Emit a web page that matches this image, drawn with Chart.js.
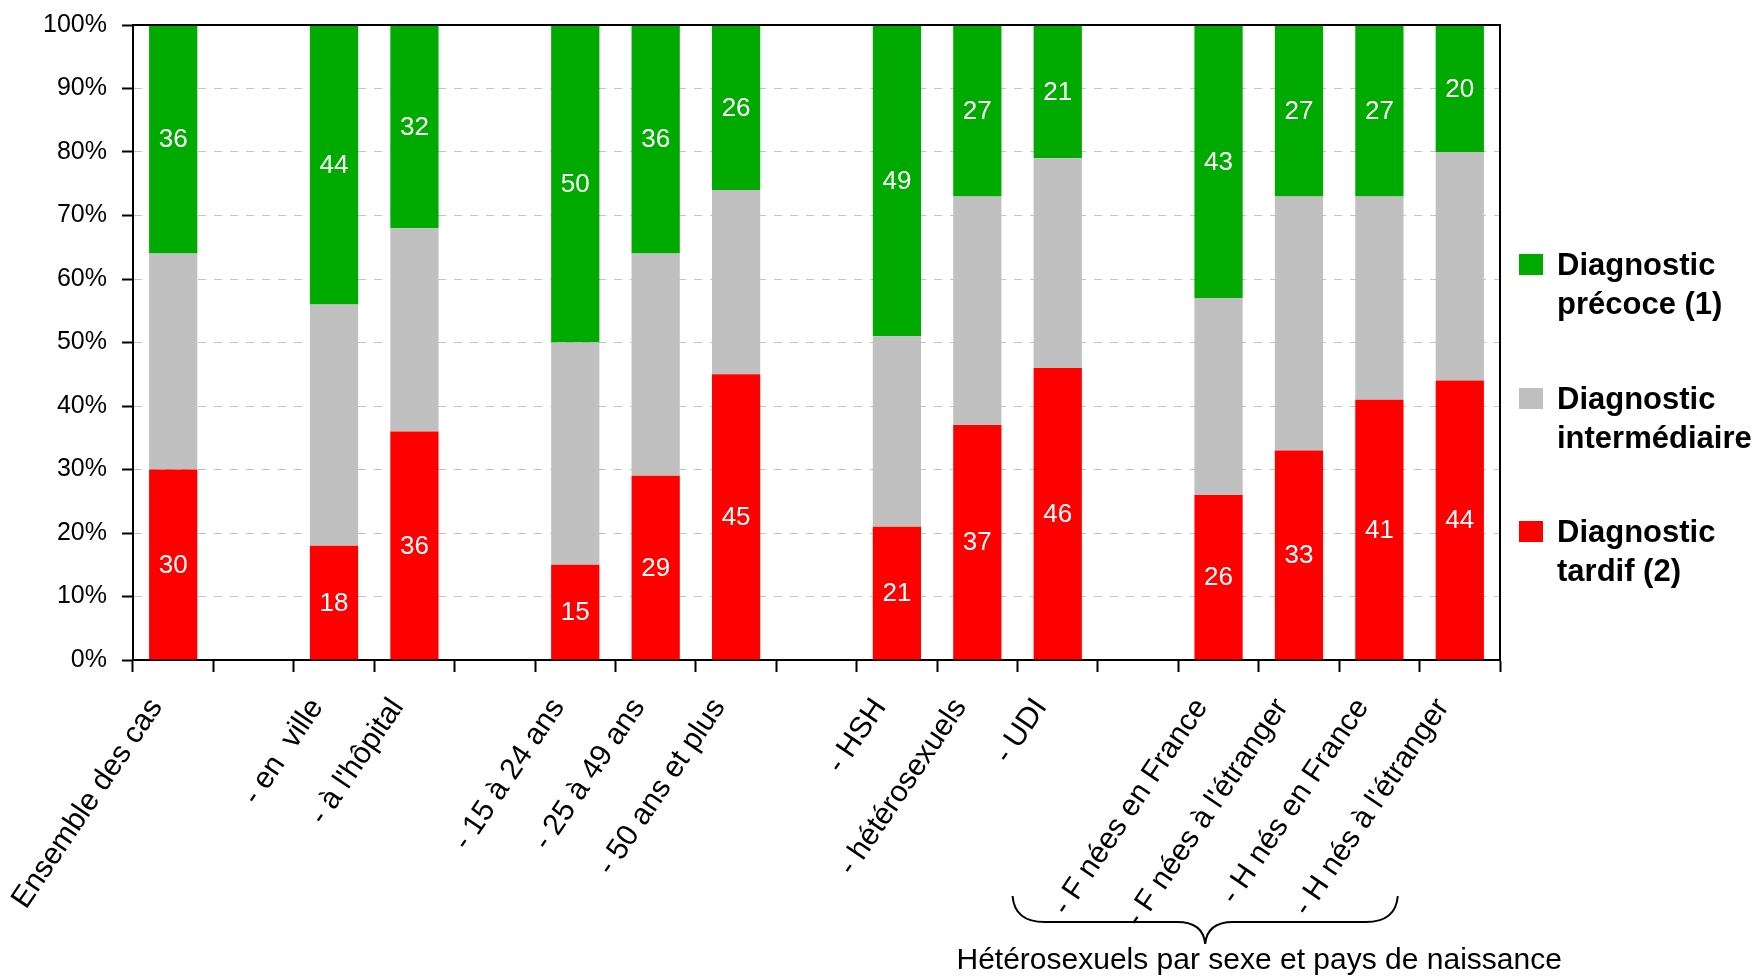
<!DOCTYPE html>
<html lang="fr">
<head>
<meta charset="utf-8">
<title>Stade au diagnostic</title>
<script src="https://cdn.jsdelivr.net/npm/chart.js@4.4.1/dist/chart.umd.min.js"></script>
<style>
  html, body { margin: 0; padding: 0; background: #fff; }
  #wrap { position: relative; width: 1758px; height: 979px; }
  #legend { position: absolute; left: 1519px; top: 0; font: bold 31px 'Liberation Sans', Arial, sans-serif; color: #000; }
  #legend .item { position: absolute; left: 0; white-space: nowrap; }
  #legend .sw { position: absolute; left: 0; width: 24px; height: 21px; }
  #legend .txt { position: absolute; left: 38px; line-height: 39px; }
</style>
</head>
<body>
<div id="wrap">
  <canvas id="c" width="1758" height="979"></canvas>
  <div id="legend"></div>
</div>
<script>
// Categories (empty strings are spacer columns between groups)
const categories = [
  'Ensemble des cas', '',
  '- en  ville', '- à l\'hôpital', '',
  '- 15 à 24 ans', '- 25 à 49 ans', '- 50 ans et plus', '',
  '- HSH', '- hétérosexuels', '- UDI', '',
  '- F nées en France', '- F nées à l\'étranger', '- H nés en France', '- H nés à l\'étranger'
];

// Share of cases (%) by stage at diagnosis
const tardif        = [30, null, 18, 36, null, 15, 29, 45, null, 21, 37, 46, null, 26, 33, 41, 44];
const intermediaire = [34, null, 38, 32, null, 35, 35, 29, null, 30, 36, 33, null, 31, 40, 32, 36];
const precoce       = [36, null, 44, 32, null, 50, 36, 26, null, 49, 27, 21, null, 43, 27, 27, 20];

const yTickValues = [0, 10, 20, 30, 40, 50, 60, 70, 80, 90, 100];

const seriesTardif        = ['Diagnostic', 'tardif (2)'];
const seriesIntermediaire = ['Diagnostic', 'intermédiaire'];
const seriesPrecoce       = ['Diagnostic', 'précoce (1)'];

const groupNote = 'Hétérosexuels par sexe et pays de naissance';

const GREEN = '#00aa00', GREY = '#c0c0c0', RED = '#ff0000';
const FONT = "'Liberation Sans', Arial, sans-serif";

Chart.defaults.font.family = FONT;
Chart.defaults.color = '#000';

// White value labels centred inside the red and green segments
const valueLabels = {
  id: 'valueLabels',
  afterDatasetsDraw(chart) {
    const ctx = chart.ctx;
    ctx.save();
    ctx.fillStyle = '#fff';
    ctx.font = '26px ' + FONT;
    ctx.textAlign = 'center';
    ctx.textBaseline = 'middle';
    chart.data.datasets.forEach((ds, i) => {
      if (!ds.showValue) return;
      chart.getDatasetMeta(i).data.forEach((bar, j) => {
        const v = ds.data[j];
        if (v === null || v === undefined) return;
        ctx.fillText(String(v), bar.x, (bar.y + bar.base) / 2 + 1);
      });
    });
    ctx.restore();
  }
};

// Closing frame (top and right edges) and the brace grouping the last four columns
const frameAndBrace = {
  id: 'frameAndBrace',
  afterDraw(chart) {
    const { ctx, chartArea: a } = chart;
    const xs = chart.scales.x;
    ctx.save();
    ctx.strokeStyle = '#000';
    ctx.lineWidth = 2;
    ctx.beginPath();
    ctx.moveTo(a.left - 1, a.top);
    ctx.lineTo(a.right, a.top);
    ctx.lineTo(a.right, a.bottom);
    ctx.stroke();

    // Brace under the rotated labels of columns 13..16
    const L = xs.getPixelForValue(13) - 206;
    const R = xs.getPixelForValue(16) - 62;
    const M = (L + R) / 2;
    const top = 896, mid = 922, tip = 944;
    ctx.lineWidth = 2;
    ctx.beginPath();
    ctx.moveTo(L, top);
    ctx.quadraticCurveTo(L + 2, mid, L + 32, mid);
    ctx.lineTo(M - 28, mid);
    ctx.quadraticCurveTo(M - 2, mid, M, tip);
    ctx.quadraticCurveTo(M + 2, mid, M + 28, mid);
    ctx.lineTo(R - 32, mid);
    ctx.quadraticCurveTo(R - 2, mid, R, top);
    ctx.stroke();

    ctx.fillStyle = '#000';
    ctx.font = '30px ' + FONT;
    ctx.textAlign = 'center';
    ctx.textBaseline = 'alphabetic';
    ctx.fillText(groupNote, M + 54, 969);
    ctx.restore();
  }
};

const chart = new Chart(document.getElementById('c'), {
  type: 'bar',
  data: {
    labels: categories,
    datasets: [
      { label: seriesTardif, data: tardif, backgroundColor: RED, showValue: true },
      { label: seriesIntermediaire, data: intermediaire, backgroundColor: GREY, showValue: false },
      { label: seriesPrecoce, data: precoce, backgroundColor: GREEN, showValue: true }
    ]
  },
  options: {
    responsive: false,
    animation: false,
    events: [],
    datasets: { bar: { barPercentage: 0.6, categoryPercentage: 1, borderWidth: 0 } },
    layout: { padding: { left: 0, right: 258, top: 25, bottom: 0 } },
    plugins: { legend: { display: false }, tooltip: { enabled: false } },
    scales: {
      x: {
        stacked: true,
        offset: true,
        grid: { display: true, drawOnChartArea: false, offset: true, tickLength: 12, tickWidth: 2, tickColor: '#000' },
        border: { display: true, color: '#000', width: 2 },
        ticks: { autoSkip: false, minRotation: 56, maxRotation: 56, padding: 20, labelOffset: -17, color: '#000', font: { size: 30 } },
        afterFit(s) { s.height = 319; }
      },
      y: {
        stacked: true,
        min: 0,
        max: 100,
        afterBuildTicks(s) { s.ticks = yTickValues.map(v => ({ value: v })); },
        grid: { color: '#c4c4c4', lineWidth: 1, tickLength: 11, tickWidth: 2, tickColor: '#000', tickBorderDash: [] },
        border: { display: true, color: '#000', width: 2, dash: [8, 8] },
        ticks: { padding: 15, color: '#000', font: { size: 25 }, callback: v => v + '%' },
        afterFit(s) { s.width = 133; s.paddingTop = 10; s.paddingBottom = 10; }
      }
    }
  },
  plugins: [valueLabels, frameAndBrace]
});

// Legend: top-to-bottom in the same order as the stack
const legend = document.getElementById('legend');
chart.data.datasets.slice().reverse().forEach((ds, i) => {
  const top = 245 + i * 133.5;
  const item = document.createElement('div');
  item.className = 'item';
  item.style.top = top + 'px';
  const sw = document.createElement('div');
  sw.className = 'sw';
  sw.style.top = '9px';
  sw.style.background = ds.backgroundColor;
  const txt = document.createElement('div');
  txt.className = 'txt';
  txt.innerHTML = ds.label.join('<br>');
  item.appendChild(sw);
  item.appendChild(txt);
  legend.appendChild(item);
});
</script>
</body>
</html>
